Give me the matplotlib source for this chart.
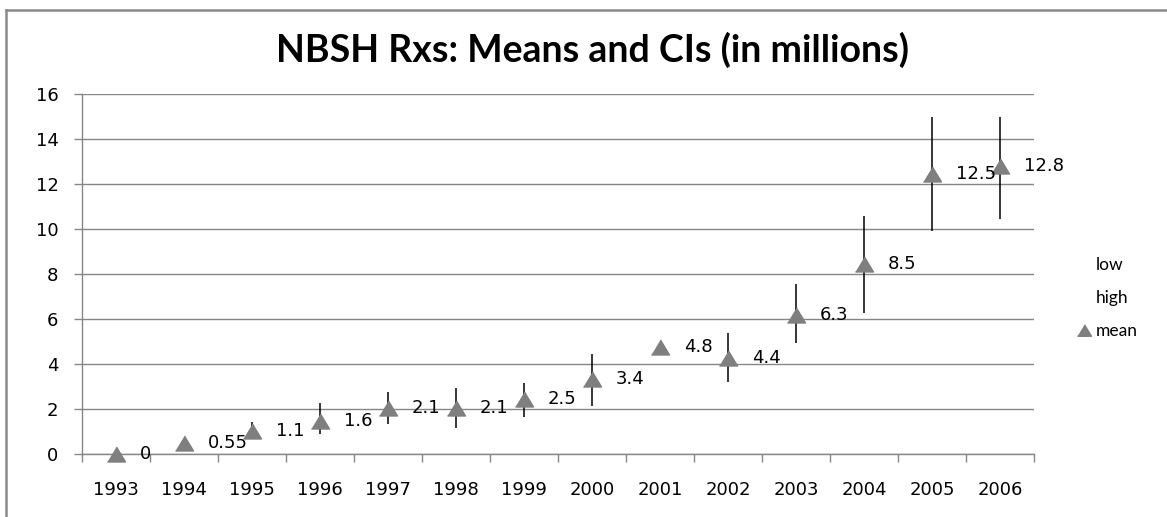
import matplotlib.pyplot as plt
import numpy as np
from matplotlib.lines import Line2D

years = ['1993', '1994', '1995', '1996', '1997', '1998', '1999',
         '2000', '2001', '2002', '2003', '2004', '2005', '2006']
# means as drawn (marker positions) and the data labels Excel printed
means = [0, 0.5, 1.05, 1.5, 2.05, 2.05, 2.45, 3.35, 4.75, 4.3, 6.2, 8.45, 12.45, 12.8]
mean_labels = ['0', '0.55', '1.1', '1.6', '2.1', '2.1', '2.5', '3.4',
               '4.8', '4.4', '6.3', '8.5', '12.5', '12.8']
# CI bounds, nan where no bar is shown
low = [np.nan, np.nan, 0.75, 0.9, 1.33, 1.18, 1.67, 2.15, np.nan, 3.23, 4.93, 6.27, 9.94, 10.44]
high = [np.nan, np.nan, 1.42, 2.27, 2.78, 2.93, 3.16, 4.46, np.nan, 5.38, 7.57, 10.59, 14.98, 14.98]

grey = '#868686'
marker_grey = '#7f7f7f'

fig = plt.figure(figsize=(11.67, 5.17), dpi=100)
ax = fig.add_axes([82 / 1167, 1 - 454.3 / 517, (1034 - 82) / 1167, 360 / 517])

x = np.arange(len(years))

ax.vlines(x, low, high, colors='black', linewidth=1.1, zorder=3)

tri = [(-1, -0.83), (1, -0.83), (0, 0.83)]
ax.plot(x, means, linestyle='none', marker=tri, markersize=13,
        color=marker_grey, zorder=4, clip_on=False)

for xi, yi, lab in zip(x, means, mean_labels):
    ax.annotate(lab, (xi, yi), xytext=(17, 0), textcoords='offset points',
                ha='left', va='center', fontsize=13, family='DejaVu Sans',
                color='black', zorder=5)

ax.set_xlim(-0.5, len(years) - 0.5)
ax.set_ylim(0, 16)
ax.set_yticks(np.arange(0, 17, 2))
ax.set_xticks(x)
ax.set_xticklabels(years)
ax.set_xticks(np.arange(-0.5, len(years), 1), minor=True)

ax.grid(axis='y', color=grey, linewidth=1.0)
ax.set_axisbelow(True)
for s in ['top', 'right']:
    ax.spines[s].set_visible(False)
for s in ['left', 'bottom']:
    ax.spines[s].set_color(grey)
    ax.spines[s].set_linewidth(1.0)

ax.tick_params(axis='x', which='major', length=0, pad=19, labelsize=13)
ax.tick_params(axis='x', which='minor', length=6, width=1.0, color=grey)
ax.tick_params(axis='y', length=6, width=1.0, color=grey, pad=11, labelsize=13)

fig.text(593 / 1167, 1 - 50 / 517, 'NBSH Rxs: Means and CIs (in millions)',
         ha='center', va='center', fontsize=27, fontweight='bold', family='Lato')

handles = [Line2D([], [], linestyle='none'),
           Line2D([], [], linestyle='none'),
           Line2D([], [], linestyle='none', marker=tri, markersize=10, color=marker_grey)]
leg = fig.legend(handles, ['low', 'high', 'mean'], loc='center left',
                 bbox_to_anchor=(1061 / 1167, 1 - 298 / 517), frameon=False,
                 prop={'family': 'Lato', 'size': 12.5}, handlelength=0.8,
                 handletextpad=0.3, labelspacing=1.0)

# chart-area frame, cropped on the right and bottom
fig.add_artist(Line2D([5.5 / 1167, 1], [1 - 9.5 / 517, 1 - 9.5 / 517],
                      color='#8a8a8a', linewidth=1.8))
fig.add_artist(Line2D([5.5 / 1167, 5.5 / 1167], [0, 1 - 9.5 / 517],
                      color='#8a8a8a', linewidth=1.8))

fig.savefig('out.png', dpi=100)
